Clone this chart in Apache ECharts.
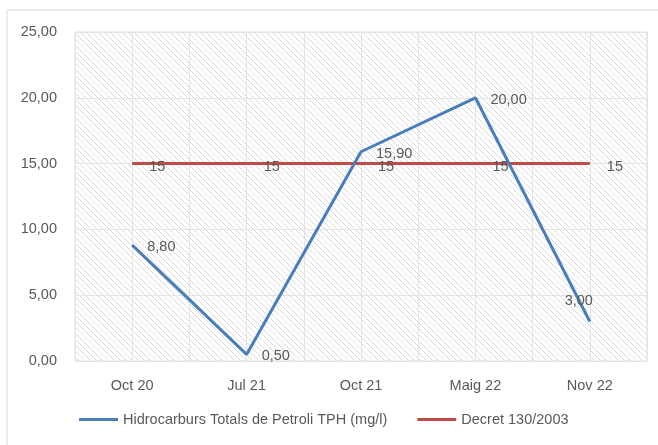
<!DOCTYPE html>
<html>
<head>
<meta charset="utf-8">
<script src="https://cdn.jsdelivr.net/npm/echarts@6/dist/echarts.min.js"></script>
<style>
html,body{margin:0;padding:0;background:#fff;}
#main{width:658px;height:445px;}
</style>
</head>
<body>
<div id="main"></div>
<script>
// dades
var categories = ['Oct 20', 'Jul 21', 'Oct 21', 'Maig 22', 'Nov 22'];
var tph = [8.80, 0.50, 15.90, 20.00, 3.00];
var decret = [15, 15, 15, 15, 15];
var nomTph = 'Hidrocarburs Totals de Petroli TPH (mg/l)';
var nomDecret = 'Decret 130/2003';

// trama de ratlles per al fons
function trama() {
  var c = document.createElement('canvas');
  c.width = 6; c.height = 6;
  var ctx = c.getContext('2d');
  ctx.fillStyle = '#ffffff';
  ctx.fillRect(0, 0, 6, 6);
  ctx.strokeStyle = '#dadada';
  ctx.lineWidth = 1;
  ctx.beginPath();
  ctx.moveTo(-1, -1); ctx.lineTo(7, 7);
  ctx.moveTo(-4, 2); ctx.lineTo(4, 10);
  ctx.moveTo(2, -4); ctx.lineTo(10, 4);
  ctx.stroke();
  return c;
}

function coma(v) { return v.toFixed(2).replace('.', ','); }

var txt = '#595959';
var font = 'Liberation Sans';
var fs = 14.5;

var chart = echarts.init(document.getElementById('main'));
var option = {
  animation: false,
  textStyle: { fontFamily: font },
  graphic: [{
    type: 'rect',
    shape: { x: 7, y: 10, width: 700, height: 500 },
    style: { fill: 'none', stroke: '#d9d9d9', lineWidth: 1 },
    z: -10
  }],
  grid: {
    left: 75, right: 11, top: 32, bottom: 84,
    show: true,
    backgroundColor: { image: trama(), repeat: 'repeat' },
    borderColor: '#e0e0e0', borderWidth: 1
  },
  legend: {
    bottom: 13,
    left: 74,
    itemWidth: 39,
    itemHeight: 3,
    itemGap: 30,
    icon: 'rect',
    textStyle: { color: txt, fontSize: fs, fontFamily: font },
    data: [nomTph, nomDecret]
  },
  xAxis: [{
    type: 'category',
    data: categories,
    boundaryGap: true,
    axisLine: { show: false },
    axisTick: { show: false },
    splitLine: { show: false },
    axisLabel: { color: txt, fontSize: fs, margin: 17, fontFamily: font }
  }, {
    type: 'value',
    min: 0, max: 10, interval: 1,
    show: true,
    axisLine: { show: false },
    axisTick: { show: false },
    axisLabel: { show: false },
    splitLine: { show: true, lineStyle: { color: '#e3e3e3', width: 1 } }
  }],
  yAxis: {
    type: 'value',
    min: 0, max: 25, interval: 5,
    axisLine: { show: false },
    axisTick: { show: false },
    axisLabel: { color: txt, fontSize: fs, margin: 18, fontFamily: font, formatter: function (v) { return coma(v); } },
    splitLine: { show: true, lineStyle: { color: '#e3e3e3', width: 1 } }
  },
  series: [{
    name: nomTph,
    type: 'line',
    data: tph.map(function (v, i) {
      var d = { value: v };
      if (i === tph.length - 1) d.label = { position: 'top', distance: 13, offset: [-11, 0] };
      return d;
    }),
    symbol: 'circle',
    symbolSize: 0.1,
    showSymbol: true,
    lineStyle: { color: '#4a7ebb', width: 3 },
    itemStyle: { color: '#4a7ebb' },
    label: {
      show: true, position: 'right', distance: 15, offset: [0, 2],
      color: txt, fontSize: fs, fontFamily: font,
      formatter: function (p) { return coma(p.value); }
    },
    z: 3
  }, {
    name: nomDecret,
    type: 'line',
    data: decret,
    symbol: 'circle',
    symbolSize: 0.1,
    showSymbol: true,
    lineStyle: { color: '#be4b48', width: 3 },
    itemStyle: { color: '#be4b48' },
    label: {
      show: true, position: 'right', distance: 17, offset: [0, 3],
      color: txt, fontSize: fs, fontFamily: font
    },
    z: 2
  }]
};
chart.setOption(option);
</script>
</body>
</html>
